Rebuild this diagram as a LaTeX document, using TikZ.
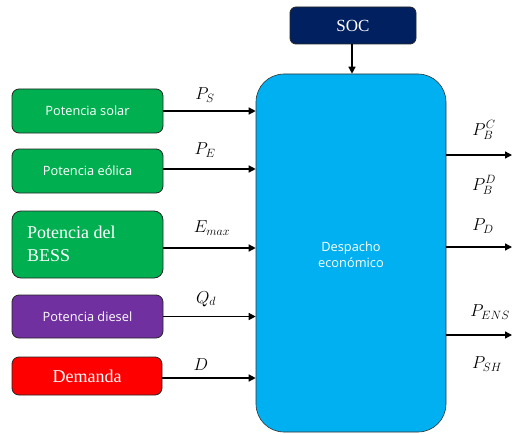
\documentclass[tikz,border=0pt]{standalone}
\usepackage{fontspec}
\setmainfont{Liberation Serif}
\newfontfamily\uisans{Open Sans}
\usetikzlibrary{arrows.meta}
\definecolor{boxgreen}{RGB}{0,176,80}
\definecolor{boxpurple}{RGB}{112,48,160}
\definecolor{boxred}{RGB}{255,0,0}
\definecolor{boxblue}{RGB}{0,176,240}
\definecolor{boxnavy}{RGB}{0,32,96}
\tikzset{
  inbox/.style={draw=black!85, line width=0.8pt, rounded corners=7pt, text=white, inner sep=0pt},
  conn/.style={line width=1.3pt, -{Triangle[length=7pt,width=7pt]}},
  lbl/.style={font=\fontsize{17}{20}\selectfont, inner sep=0pt},
  sanslbl/.style={font=\uisans\fontsize{12.8}{15}\selectfont},
}
\begin{document}
\begin{tikzpicture}[x=1pt,y=-1pt]
\useasboundingbox (0,0) rectangle (513,433);
% main box
\node[draw=black!80, line width=0.6pt, fill=boxblue, rounded corners=28pt, minimum width=190pt, minimum height=358pt, inner sep=0pt] (main) at (351,253) {};
\node[text=white, align=center, font=\uisans\fontsize{12.8}{16}\selectfont] (mlabel) at (351,255) {Despacho\\econ\'omico};
% SOC
\node[inbox, fill=boxnavy, minimum width=126pt, minimum height=37pt, rounded corners=6pt, font=\fontsize{17}{20}\selectfont] (soc) at (353,25.5) {SOC};
% inputs
\node[inbox, fill=boxgreen, minimum width=151pt, minimum height=44pt, sanslbl] (solar) at (87.5,111) {Potencia solar};
\node[inbox, fill=boxgreen, minimum width=151pt, minimum height=44pt, sanslbl] (eolica) at (87.5,171) {Potencia e\'olica};
\node[inbox, fill=boxgreen, minimum width=151pt, minimum height=67pt, rounded corners=9pt] (bess) at (87.5,244.5) {};
\node[text=white, align=left, anchor=west, font=\fontsize{18}{23}\selectfont, inner sep=0pt] (besslabel) at (27,244) {Potencia del\\BESS};
\node[inbox, fill=boxpurple, minimum width=151pt, minimum height=43pt, sanslbl] (diesel) at (87.5,316.5) {Potencia diesel};
\node[inbox, fill=boxred, minimum width=150pt, minimum height=38pt, font=\fontsize{18}{20}\selectfont] (dem) at (87,376) {Demanda};
% input arrows
\draw[conn] (solar.east) -- (solar.east -| main.west);
\draw[conn] (eolica.east |- 0,169) -- (main.west |- 0,169);
\draw[conn] (bess.east |- 0,248) -- (main.west |- 0,248);
\draw[conn] (diesel.east) -- (diesel.east -| main.west);
\draw[conn] (dem.east |- 0,378) -- (main.west |- 0,378);
\draw[conn] (soc.south -| 352,0) -- (main.north -| 352,0);
% input labels
\node[lbl] (lps) at (205,95) {$P_S$};
\node[lbl] (lpe) at (205,150) {$P_E$};
\node[lbl] (lem) at (212,228) {$E_{max}$};
\node[lbl] (lqd) at (206,299) {$Q_d$};
\node[lbl] (ld) at (201,365) {$D$};
% outputs
\coordinate (o1) at (512,155);
\coordinate (o2) at (512,247);
\coordinate (o3) at (512,335);
\draw[conn] (main.east |- o1) -- (o1);
\draw[conn] (main.east |- o2) -- (o2);
\draw[conn] (main.east |- o3) -- (o3);
\node[lbl] (lpbc) at (484,130) {$P_B^C$};
\node[lbl] (lpbd) at (484,185) {$P_B^D$};
\node[lbl] (lpd) at (483,226) {$P_D$};
\node[lbl] (lpens) at (490,312) {$P_{ENS}$};
\node[lbl] (lpsh) at (487,364) {$P_{SH}$};
\end{tikzpicture}
\end{document}
